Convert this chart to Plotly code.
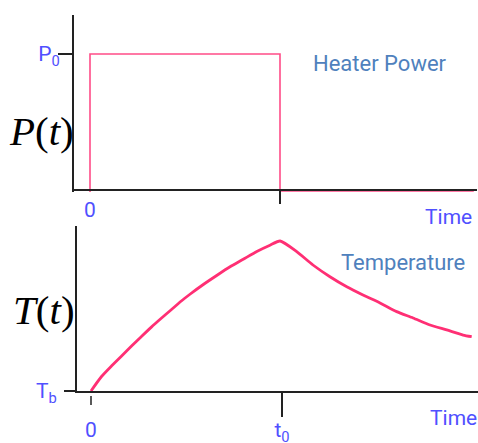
import plotly.graph_objects as go

# heater power step (t in units of t0, P in units of P0)
power_t = [0, 0, 1, 1, 2.02]
power = [0, 1, 1, 0, 0]

# temperature rise and decay (normalised to peak)
temp_t = [0, 0.054, 0.106, 0.159, 0.211, 0.263, 0.316, 0.368, 0.42, 0.473,
          0.518, 0.588, 0.658, 0.728, 0.797, 0.868, 0.937, 0.99,
          1.077, 1.162, 1.251, 1.339, 1.424, 1.513, 1.6, 1.686, 1.775,
          1.862, 1.948, 1.993]
temp = [0, 0.095, 0.165, 0.232, 0.298, 0.362, 0.426, 0.485, 0.542, 0.6,
        0.645, 0.71, 0.77, 0.828, 0.878, 0.93, 0.972, 1.0,
        0.929, 0.84, 0.762, 0.695, 0.64, 0.587, 0.529, 0.487, 0.44,
        0.407, 0.373, 0.362]

W, H = 478, 443
TICK_BLUE = "#5050ff"
LABEL_BLUE = "#4f81bd"
PINK = "#ff2f74"


def px(x):
    return x / W


def py(y):
    return 1 - y / H


fig = go.Figure()
fig.add_trace(go.Scatter(x=power_t, y=power, mode="lines",
                         line=dict(color="#ff4c88", width=1.6),
                         xaxis="x", yaxis="y", hoverinfo="skip"))
fig.add_trace(go.Scatter(x=temp_t, y=temp, mode="lines",
                         line=dict(color=PINK, width=2.8, shape="spline",
                                   smoothing=0.6),
                         xaxis="x2", yaxis="y2", hoverinfo="skip"))

tickfont = dict(family="Roboto", size=21, color=TICK_BLUE)
axline = dict(showline=True, linecolor="#222", linewidth=2,
              showgrid=False, zeroline=False, automargin=False)

fig.update_layout(
    width=W, height=H,
    margin=dict(l=0, r=0, t=0, b=0),
    paper_bgcolor="white", plot_bgcolor="white",
    showlegend=False,
    xaxis=dict(domain=[px(74), px(477)], anchor="free", position=py(190),
               range=[-0.0842, 2.0368],
               tickvals=[0], ticktext=["0"], ticks="",
               ticklabelstandoff=1,
               minor=dict(tickmode="array", tickvals=[1], ticks="outside",
                          ticklen=13, tickcolor="#222", tickwidth=1.5),
               tickfont=tickfont, **axline),
    yaxis=dict(domain=[py(192), py(15)], anchor="x",
               range=[0, 1.283],
               tickvals=[1], ticktext=["P<sub>0</sub>"],
               ticks="outside", ticklen=14, tickcolor="#222", tickwidth=1.5,
               ticklabelstandoff=-6,
               tickfont=tickfont, **axline),
    xaxis2=dict(domain=[px(77), 1], anchor="y2",
                range=[-0.0733, 2.026],
                tickvals=[0, 1], ticktext=["0", "t<sub>0</sub>"], ticks="",
                ticklabelstandoff=19,
                minor=dict(tickmode="array", tickvals=[1], ticks="outside",
                           ticklen=24, tickcolor="#222", tickwidth=1.5),
                tickfont=tickfont, **axline),
    yaxis2=dict(domain=[py(391), py(226)], anchor="x2",
                range=[0, 1.1],
                tickvals=[0], ticktext=["T<sub>b</sub>"],
                ticks="outside", ticklen=11, tickcolor="#222", tickwidth=2,
                ticklabelstandoff=3,
                tickfont=tickfont, **axline),
)

# short tick under t = 0 on the lower axis
fig.add_shape(type="line", xref="x2", yref="paper",
              x0=0, x1=0, y0=py(396), y1=py(405),
              line=dict(color="#222", width=1.5))

big = dict(family="Liberation Serif", size=41, color="black")
blue = dict(family="Roboto", size=22, color=LABEL_BLUE)
time_font = dict(family="Roboto", size=21, color=TICK_BLUE)
notes = [
    ("<i>P</i>(<i>t</i>)", 41, 131, big),
    ("<i>T</i>(<i>t</i>)", 44, 310, big),
    ("Heater Power", 380, 64, blue),
    ("Temperature", 403, 262, blue),
    ("Time", 448, 217, time_font),
    ("Time", 453, 418, time_font),
]
for text, x, y, font in notes:
    fig.add_annotation(text=text, x=px(x), y=py(y), xref="paper",
                       yref="paper", showarrow=False, font=font,
                       xanchor="center", yanchor="middle")

# drop the default 8px page margin so the figure fills the window exactly
fig.write_html("out.html", config={"displayModeBar": False},
               post_script="document.body.style.margin='0';")
